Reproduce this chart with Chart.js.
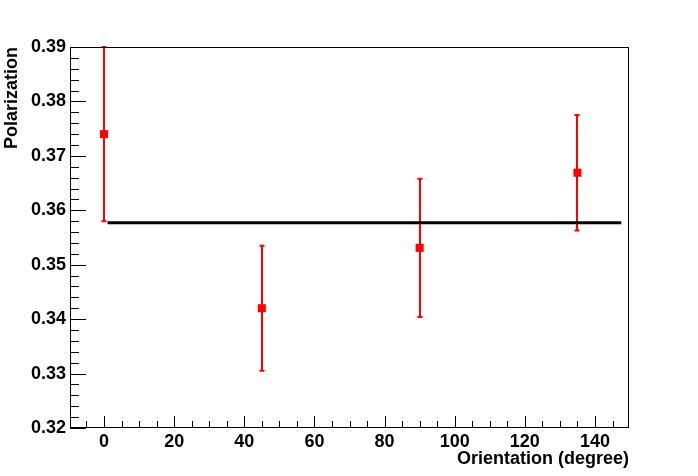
<!DOCTYPE html>
<html>
<head>
<meta charset="utf-8">
<script src="https://cdn.jsdelivr.net/npm/chart.js@4/dist/chart.umd.min.js"></script>
<style>
  html, body { margin: 0; padding: 0; background: #fff; }
  canvas { display: block; }
</style>
</head>
<body>
<canvas id="c" width="698" height="476"></canvas>
<script>
// measured points (orientation, polarization, error)
const orientations = [0, 45, 90, 135];
const polarization = [0.374, 0.342, 0.3531, 0.3669];
const polErrors = [0.016, 0.0115, 0.0127, 0.0106];

// constant fit
const fitRange = [1, 147.5];
const fitValue = 0.3577;

const xTickValues = [0, 20, 40, 60, 80, 100, 120, 140];
const yTickValues = [0.32, 0.33, 0.34, 0.35, 0.36, 0.37, 0.38, 0.39];

const FONT = '"Liberation Sans", Arial, Helvetica, sans-serif';

const rootStyle = {
    id: 'rootStyle',
    beforeDatasetsDraw(chart) {
        const { ctx, chartArea, scales } = chart;
        const xs = scales.x, ys = scales.y;
        ctx.save();
        ctx.beginPath();
        ctx.rect(chartArea.left, chartArea.top - 1, chartArea.right - chartArea.left, chartArea.bottom - chartArea.top + 2);
        ctx.clip();
        ctx.strokeStyle = '#ff0000';
        ctx.lineWidth = 2;
        orientations.forEach((x, i) => {
            const px = Math.round(xs.getPixelForValue(x));
            const top = ys.getPixelForValue(polarization[i] + polErrors[i]);
            const bot = ys.getPixelForValue(polarization[i] - polErrors[i]);
            ctx.beginPath();
            ctx.moveTo(px, top);
            ctx.lineTo(px, bot);
            ctx.moveTo(px - 2.5, top);
            ctx.lineTo(px + 2.5, top);
            ctx.moveTo(px - 2.5, bot);
            ctx.lineTo(px + 2.5, bot);
            ctx.stroke();
        });
        ctx.restore();
    },
    afterDraw(chart) {
        const { ctx, chartArea, scales } = chart;
        const xs = scales.x, ys = scales.y;
        const { left, right, top, bottom } = chartArea;
        ctx.save();
        ctx.strokeStyle = '#000';
        ctx.lineWidth = 1;
        ctx.strokeRect(left + 0.5, top + 0.5, right - left - 1, bottom - top - 1);

        ctx.beginPath();
        // y ticks: major every 0.01, minor every 0.002
        for (let k = 0; k <= 35; k++) {
            const v = 0.32 + k * 0.002;
            const py = Math.round(ys.getPixelForValue(v)) + 0.5;
            const len = (k % 5 === 0) ? 16 : 9;
            ctx.moveTo(left, py);
            ctx.lineTo(left + len, py);
        }
        // x ticks: major every 20, minor every 5
        for (let v = -5; v <= 145; v += 5) {
            const px = Math.round(xs.getPixelForValue(v)) + 0.5;
            const len = (v % 20 === 0) ? 12 : 7;
            ctx.moveTo(px, bottom);
            ctx.lineTo(px, bottom - len);
        }
        ctx.stroke();

        ctx.fillStyle = '#000';
        ctx.font = 'bold 18px ' + FONT;
        ctx.textAlign = 'right';
        ctx.textBaseline = 'middle';
        ctx.fillText('Orientation (degree)', right, 459);

        ctx.translate(12, top);
        ctx.rotate(-Math.PI / 2);
        ctx.fillText('Polarization', 0, 0);
        ctx.restore();
    }
};

new Chart(document.getElementById('c'), {
    type: 'scatter',
    data: {
        datasets: [{
            label: 'Polarization',
            data: orientations.map((x, i) => ({ x: x, y: polarization[i] })),
            backgroundColor: '#ff0000',
            borderColor: '#ff0000',
            pointStyle: 'rect',
            pointRadius: 5.7,
            pointBorderWidth: 0,
            order: 2
        }, {
            type: 'line',
            label: 'Fit',
            data: fitRange.map(x => ({ x: x, y: fitValue })),
            borderColor: '#000',
            borderWidth: 3,
            pointRadius: 0,
            fill: false,
            order: 1
        }]
    },
    options: {
        responsive: false,
        animation: false,
        layout: { padding: { top: 47, right: 69, left: 0, bottom: 0 } },
        plugins: {
            legend: { display: false },
            tooltip: { enabled: false }
        },
        scales: {
            x: {
                type: 'linear',
                min: -9.7,
                max: 149.7,
                grid: { display: false, drawTicks: false },
                border: { display: false },
                afterBuildTicks: s => { s.ticks = xTickValues.map(v => ({ value: v })); },
                afterFit: s => { s.height = 48; },
                ticks: {
                    color: '#000',
                    padding: 3,
                    maxRotation: 0,
                    font: { family: FONT, size: 18, weight: 'bold' },
                    callback: v => String(v)
                }
            },
            y: {
                min: 0.32,
                max: 0.39,
                grid: { display: false, drawTicks: false },
                border: { display: false },
                afterBuildTicks: s => { s.ticks = yTickValues.map(v => ({ value: v })); },
                afterFit: s => { s.width = 70; },
                ticks: {
                    color: '#000',
                    padding: 4,
                    font: { family: FONT, size: 18, weight: 'bold' },
                    callback: v => Number(v).toFixed(2)
                }
            }
        }
    },
    plugins: [rootStyle]
});
</script>
</body>
</html>
